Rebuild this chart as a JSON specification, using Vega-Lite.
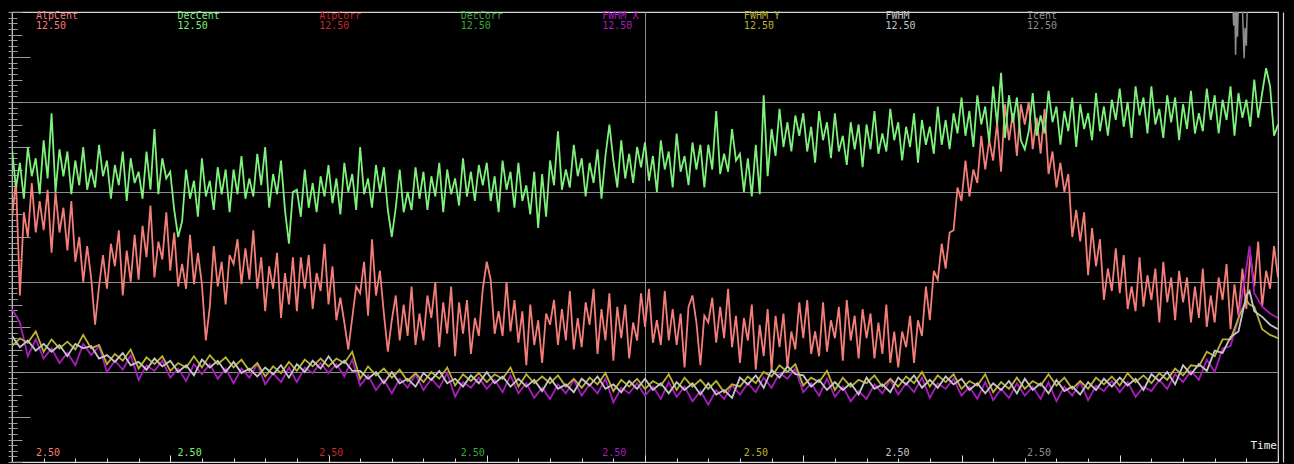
{
  "$schema": "https://vega.github.io/schema/vega-lite/v6.json",
  "width": 1266,
  "height": 450,
  "autosize": {"type": "none"},
  "padding": {"left": 12, "top": 12, "right": 16, "bottom": 2},
  "background": "#000000",
  "config": {
    "view": {"stroke": "#d4d4d4", "strokeWidth": 1.2},
    "font": "DejaVu Sans Mono"
  },
  "datasets": {
    "centroids": [
      {"t":0,"AlpCent":10.8,"DecCent":13.9},{"t":0.125,"AlpCent":12.5,"DecCent":12.2},{"t":0.25,"AlpCent":7.4,"DecCent":13.3},{"t":0.375,"AlpCent":11.1,"DecCent":11.7},{"t":0.5,"AlpCent":10.0,"DecCent":14.0},{"t":0.625,"AlpCent":12.4,"DecCent":12.7},{"t":0.75,"AlpCent":10.2,"DecCent":13.5},{"t":0.875,"AlpCent":11.6,"DecCent":11.9},
      {"t":1,"AlpCent":10.3,"DecCent":14.3},{"t":1.125,"AlpCent":12.1,"DecCent":12.6},{"t":1.25,"AlpCent":9.3,"DecCent":15.5},{"t":1.375,"AlpCent":12.0,"DecCent":12.0},{"t":1.5,"AlpCent":10.2,"DecCent":13.9},{"t":1.625,"AlpCent":11.3,"DecCent":12.7},{"t":1.75,"AlpCent":9.4,"DecCent":13.8},{"t":1.875,"AlpCent":11.6,"DecCent":11.9},
      {"t":2,"AlpCent":8.9,"DecCent":13.4},{"t":2.125,"AlpCent":10.0,"DecCent":12.3},{"t":2.25,"AlpCent":8.0,"DecCent":14.0},{"t":2.375,"AlpCent":9.6,"DecCent":12.1},{"t":2.5,"AlpCent":8.2,"DecCent":13.0},{"t":2.625,"AlpCent":6.1,"DecCent":12.2},{"t":2.75,"AlpCent":7.8,"DecCent":14.1},{"t":2.875,"AlpCent":9.2,"DecCent":12.7},
      {"t":3,"AlpCent":7.7,"DecCent":13.4},{"t":3.125,"AlpCent":9.7,"DecCent":11.7},{"t":3.25,"AlpCent":8.7,"DecCent":13.2},{"t":3.375,"AlpCent":10.3,"DecCent":12.3},{"t":3.5,"AlpCent":7.4,"DecCent":13.8},{"t":3.625,"AlpCent":9.4,"DecCent":11.6},{"t":3.75,"AlpCent":8.0,"DecCent":13.5},{"t":3.875,"AlpCent":10.1,"DecCent":12.4},
      {"t":4,"AlpCent":8.1,"DecCent":12.9},{"t":4.125,"AlpCent":10.5,"DecCent":11.7},{"t":4.25,"AlpCent":9.1,"DecCent":13.8},{"t":4.375,"AlpCent":11.4,"DecCent":12.1},{"t":4.5,"AlpCent":8.2,"DecCent":14.8},{"t":4.625,"AlpCent":9.8,"DecCent":11.9},{"t":4.75,"AlpCent":9.0,"DecCent":13.5},{"t":4.875,"AlpCent":11.1,"DecCent":12.6},
      {"t":5,"AlpCent":8.5,"DecCent":12.9},{"t":5.125,"AlpCent":10.2,"DecCent":11.2},{"t":5.25,"AlpCent":7.8,"DecCent":10.0},{"t":5.375,"AlpCent":8.8,"DecCent":10.7},{"t":5.5,"AlpCent":7.7,"DecCent":13.0},{"t":5.625,"AlpCent":10.1,"DecCent":11.7},{"t":5.75,"AlpCent":7.9,"DecCent":12.5},{"t":5.875,"AlpCent":9.3,"DecCent":10.9},
      {"t":6,"AlpCent":7.9,"DecCent":13.5},{"t":6.125,"AlpCent":5.4,"DecCent":11.8},{"t":6.25,"AlpCent":6.9,"DecCent":12.5},{"t":6.375,"AlpCent":9.6,"DecCent":11.2},{"t":6.5,"AlpCent":7.8,"DecCent":13.1},{"t":6.625,"AlpCent":8.9,"DecCent":11.9},{"t":6.75,"AlpCent":7.0,"DecCent":13.0},{"t":6.875,"AlpCent":9.2,"DecCent":11.1},
      {"t":7,"AlpCent":8.8,"DecCent":13.0},{"t":7.125,"AlpCent":9.9,"DecCent":11.9},{"t":7.25,"AlpCent":7.9,"DecCent":13.6},{"t":7.375,"AlpCent":9.5,"DecCent":11.7},{"t":7.5,"AlpCent":8.1,"DecCent":12.6},{"t":7.625,"AlpCent":10.3,"DecCent":11.8},{"t":7.75,"AlpCent":7.7,"DecCent":13.7},{"t":7.875,"AlpCent":9.1,"DecCent":12.3},
      {"t":8,"AlpCent":6.7,"DecCent":14.0},{"t":8.125,"AlpCent":8.7,"DecCent":11.3},{"t":8.25,"AlpCent":7.7,"DecCent":12.8},{"t":8.375,"AlpCent":9.3,"DecCent":11.9},{"t":8.5,"AlpCent":6.4,"DecCent":13.4},{"t":8.625,"AlpCent":8.4,"DecCent":11.2},{"t":8.75,"AlpCent":7.0,"DecCent":9.7},{"t":8.875,"AlpCent":9.1,"DecCent":12.0},
      {"t":9,"AlpCent":6.7,"DecCent":12.1},{"t":9.125,"AlpCent":9.1,"DecCent":10.9},{"t":9.25,"AlpCent":7.7,"DecCent":13.0},{"t":9.375,"AlpCent":9.2,"DecCent":11.3},{"t":9.5,"AlpCent":6.8,"DecCent":12.4},{"t":9.625,"AlpCent":8.4,"DecCent":11.1},{"t":9.75,"AlpCent":7.6,"DecCent":12.7},{"t":9.875,"AlpCent":9.7,"DecCent":11.8},
      {"t":10,"AlpCent":7.0,"DecCent":13.2},{"t":10.125,"AlpCent":8.7,"DecCent":11.5},{"t":10.25,"AlpCent":6.3,"DecCent":12.6},{"t":10.375,"AlpCent":7.3,"DecCent":11.0},{"t":10.5,"AlpCent":6.2,"DecCent":13.3},{"t":10.625,"AlpCent":5.0,"DecCent":12.0},{"t":10.75,"AlpCent":6.4,"DecCent":12.8},{"t":10.875,"AlpCent":7.8,"DecCent":11.2},
      {"t":11,"AlpCent":7.5,"DecCent":14.0},{"t":11.125,"AlpCent":8.9,"DecCent":11.9},{"t":11.25,"AlpCent":6.5,"DecCent":12.6},{"t":11.375,"AlpCent":9.9,"DecCent":11.3},{"t":11.5,"AlpCent":7.4,"DecCent":13.2},{"t":11.625,"AlpCent":8.5,"DecCent":12.0},{"t":11.75,"AlpCent":6.6,"DecCent":13.1},{"t":11.875,"AlpCent":4.9,"DecCent":11.2},
      {"t":12,"AlpCent":6.3,"DecCent":10.0},{"t":12.125,"AlpCent":7.4,"DecCent":11.3},{"t":12.25,"AlpCent":5.4,"DecCent":13.0},{"t":12.375,"AlpCent":7.0,"DecCent":11.1},{"t":12.5,"AlpCent":5.6,"DecCent":12.0},{"t":12.625,"AlpCent":7.8,"DecCent":11.2},{"t":12.75,"AlpCent":5.2,"DecCent":13.1},{"t":12.875,"AlpCent":6.6,"DecCent":11.7},
      {"t":13,"AlpCent":5.4,"DecCent":12.9},{"t":13.125,"AlpCent":7.4,"DecCent":11.2},{"t":13.25,"AlpCent":6.4,"DecCent":12.7},{"t":13.375,"AlpCent":8.0,"DecCent":11.8},{"t":13.5,"AlpCent":5.1,"DecCent":13.3},{"t":13.625,"AlpCent":7.1,"DecCent":11.1},{"t":13.75,"AlpCent":5.7,"DecCent":13.0},{"t":13.875,"AlpCent":7.8,"DecCent":11.9},
      {"t":14,"AlpCent":4.7,"DecCent":12.6},{"t":14.125,"AlpCent":7.1,"DecCent":11.4},{"t":14.25,"AlpCent":5.7,"DecCent":13.5},{"t":14.375,"AlpCent":7.2,"DecCent":11.8},{"t":14.5,"AlpCent":4.8,"DecCent":12.9},{"t":14.625,"AlpCent":6.4,"DecCent":11.6},{"t":14.75,"AlpCent":5.6,"DecCent":13.2},{"t":14.875,"AlpCent":7.7,"DecCent":12.3},
      {"t":15,"AlpCent":8.9,"DecCent":13.3},{"t":15.125,"AlpCent":8.1,"DecCent":11.6},{"t":15.25,"AlpCent":5.7,"DecCent":12.7},{"t":15.375,"AlpCent":6.7,"DecCent":11.1},{"t":15.5,"AlpCent":5.6,"DecCent":13.4},{"t":15.625,"AlpCent":8.0,"DecCent":12.1},{"t":15.75,"AlpCent":5.8,"DecCent":12.9},{"t":15.875,"AlpCent":7.2,"DecCent":11.3},
      {"t":16,"AlpCent":5.3,"DecCent":13.3},{"t":16.125,"AlpCent":6.7,"DecCent":11.6},{"t":16.25,"AlpCent":4.3,"DecCent":12.3},{"t":16.375,"AlpCent":7.0,"DecCent":11.0},{"t":16.5,"AlpCent":5.2,"DecCent":12.9},{"t":16.625,"AlpCent":6.3,"DecCent":10.4},{"t":16.75,"AlpCent":4.4,"DecCent":12.8},{"t":16.875,"AlpCent":6.6,"DecCent":10.9},
      {"t":17,"AlpCent":6.1,"DecCent":13.4},{"t":17.125,"AlpCent":7.2,"DecCent":12.3},{"t":17.25,"AlpCent":5.2,"DecCent":14.7},{"t":17.375,"AlpCent":6.8,"DecCent":12.1},{"t":17.5,"AlpCent":5.4,"DecCent":13.0},{"t":17.625,"AlpCent":7.6,"DecCent":12.2},{"t":17.75,"AlpCent":5.0,"DecCent":14.1},{"t":17.875,"AlpCent":6.4,"DecCent":12.7},
      {"t":18,"AlpCent":5.1,"DecCent":13.5},{"t":18.125,"AlpCent":7.1,"DecCent":11.8},{"t":18.25,"AlpCent":6.1,"DecCent":13.3},{"t":18.375,"AlpCent":7.7,"DecCent":12.4},{"t":18.5,"AlpCent":4.8,"DecCent":13.9},{"t":18.625,"AlpCent":6.8,"DecCent":11.7},{"t":18.75,"AlpCent":5.4,"DecCent":13.6},{"t":18.875,"AlpCent":7.5,"DecCent":15.0},
      {"t":19,"AlpCent":4.5,"DecCent":13.4},{"t":19.125,"AlpCent":6.9,"DecCent":12.2},{"t":19.25,"AlpCent":5.5,"DecCent":14.3},{"t":19.375,"AlpCent":7.0,"DecCent":12.6},{"t":19.5,"AlpCent":4.6,"DecCent":13.7},{"t":19.625,"AlpCent":6.2,"DecCent":12.4},{"t":19.75,"AlpCent":5.4,"DecCent":14.0},{"t":19.875,"AlpCent":7.5,"DecCent":13.1},
      {"t":20,"AlpCent":6.0,"DecCent":14.2},{"t":20.125,"AlpCent":7.7,"DecCent":12.5},{"t":20.25,"AlpCent":5.3,"DecCent":13.6},{"t":20.375,"AlpCent":6.3,"DecCent":12.0},{"t":20.5,"AlpCent":5.2,"DecCent":14.3},{"t":20.625,"AlpCent":7.6,"DecCent":13.0},{"t":20.75,"AlpCent":5.4,"DecCent":13.8},{"t":20.875,"AlpCent":6.8,"DecCent":12.2},
      {"t":21,"AlpCent":5.2,"DecCent":14.6},{"t":21.125,"AlpCent":6.6,"DecCent":12.9},{"t":21.25,"AlpCent":4.2,"DecCent":13.6},{"t":21.375,"AlpCent":6.9,"DecCent":12.3},{"t":21.5,"AlpCent":7.4,"DecCent":14.2},{"t":21.625,"AlpCent":6.2,"DecCent":13.0},{"t":21.75,"AlpCent":4.3,"DecCent":14.1},{"t":21.875,"AlpCent":6.5,"DecCent":12.2},
      {"t":22,"AlpCent":6.2,"DecCent":14.1},{"t":22.125,"AlpCent":7.3,"DecCent":13.0},{"t":22.25,"AlpCent":5.3,"DecCent":15.6},{"t":22.375,"AlpCent":6.9,"DecCent":12.8},{"t":22.5,"AlpCent":5.5,"DecCent":13.7},{"t":22.625,"AlpCent":7.7,"DecCent":12.9},{"t":22.75,"AlpCent":5.1,"DecCent":14.8},{"t":22.875,"AlpCent":6.5,"DecCent":13.4},
      {"t":23,"AlpCent":4.4,"DecCent":13.7},{"t":23.125,"AlpCent":6.4,"DecCent":12.0},{"t":23.25,"AlpCent":5.4,"DecCent":13.5},{"t":23.375,"AlpCent":7.0,"DecCent":11.8},{"t":23.5,"AlpCent":4.1,"DecCent":14.1},{"t":23.625,"AlpCent":6.1,"DecCent":11.9},{"t":23.75,"AlpCent":4.7,"DecCent":16.3},{"t":23.875,"AlpCent":6.8,"DecCent":12.7},
      {"t":24,"AlpCent":4.1,"DecCent":14.8},{"t":24.125,"AlpCent":6.5,"DecCent":13.6},{"t":24.25,"AlpCent":5.1,"DecCent":15.7},{"t":24.375,"AlpCent":6.6,"DecCent":14.0},{"t":24.5,"AlpCent":4.2,"DecCent":15.1},{"t":24.625,"AlpCent":5.8,"DecCent":13.8},{"t":24.75,"AlpCent":5.0,"DecCent":15.4},{"t":24.875,"AlpCent":7.1,"DecCent":14.5},
      {"t":25,"AlpCent":5.5,"DecCent":15.5},{"t":25.125,"AlpCent":7.2,"DecCent":13.8},{"t":25.25,"AlpCent":4.8,"DecCent":14.9},{"t":25.375,"AlpCent":5.8,"DecCent":13.3},{"t":25.5,"AlpCent":4.7,"DecCent":15.6},{"t":25.625,"AlpCent":7.1,"DecCent":14.3},{"t":25.75,"AlpCent":4.9,"DecCent":15.1},{"t":25.875,"AlpCent":6.3,"DecCent":13.5},
      {"t":26,"AlpCent":5.5,"DecCent":15.5},{"t":26.125,"AlpCent":6.9,"DecCent":13.8},{"t":26.25,"AlpCent":4.5,"DecCent":14.5},{"t":26.375,"AlpCent":7.2,"DecCent":13.2},{"t":26.5,"AlpCent":5.4,"DecCent":15.1},{"t":26.625,"AlpCent":6.5,"DecCent":13.9},{"t":26.75,"AlpCent":4.6,"DecCent":15.0},{"t":26.875,"AlpCent":6.8,"DecCent":13.1},
      {"t":27,"AlpCent":5.5,"DecCent":15.0},{"t":27.125,"AlpCent":6.6,"DecCent":13.9},{"t":27.25,"AlpCent":4.6,"DecCent":15.6},{"t":27.375,"AlpCent":6.2,"DecCent":13.7},{"t":27.5,"AlpCent":4.8,"DecCent":14.6},{"t":27.625,"AlpCent":7.0,"DecCent":13.8},{"t":27.75,"AlpCent":4.4,"DecCent":15.7},{"t":27.875,"AlpCent":5.8,"DecCent":14.3},
      {"t":28,"AlpCent":4.2,"DecCent":15.1},{"t":28.125,"AlpCent":5.8,"DecCent":13.4},{"t":28.25,"AlpCent":5.1,"DecCent":14.9},{"t":28.375,"AlpCent":6.5,"DecCent":14.0},{"t":28.5,"AlpCent":4.4,"DecCent":15.5},{"t":28.625,"AlpCent":6.3,"DecCent":13.3},{"t":28.75,"AlpCent":5.6,"DecCent":15.2},{"t":28.875,"AlpCent":7.8,"DecCent":14.1},
      {"t":29,"AlpCent":6.3,"DecCent":14.9},{"t":29.125,"AlpCent":8.5,"DecCent":13.7},{"t":29.25,"AlpCent":8.1,"DecCent":15.8},{"t":29.375,"AlpCent":9.7,"DecCent":14.1},{"t":29.5,"AlpCent":8.6,"DecCent":15.2},{"t":29.625,"AlpCent":10.2,"DecCent":13.9},{"t":29.75,"AlpCent":10.3,"DecCent":15.5},{"t":29.875,"AlpCent":12.2,"DecCent":14.6},
      {"t":30,"AlpCent":11.6,"DecCent":16.2},{"t":30.125,"AlpCent":13.4,"DecCent":14.5},{"t":30.25,"AlpCent":11.8,"DecCent":15.6},{"t":30.375,"AlpCent":13.0,"DecCent":14.0},{"t":30.5,"AlpCent":12.4,"DecCent":16.3},{"t":30.625,"AlpCent":14.5,"DecCent":15.0},{"t":30.75,"AlpCent":13.0,"DecCent":15.8},{"t":30.875,"AlpCent":14.3,"DecCent":14.2},
      {"t":31,"AlpCent":13.4,"DecCent":16.7},{"t":31.125,"AlpCent":15.1,"DecCent":15.0},{"t":31.25,"AlpCent":12.9,"DecCent":17.3},{"t":31.375,"AlpCent":15.9,"DecCent":14.4},{"t":31.5,"AlpCent":14.3,"DecCent":16.3},{"t":31.625,"AlpCent":15.5,"DecCent":15.1},{"t":31.75,"AlpCent":13.6,"DecCent":16.2},{"t":31.875,"AlpCent":15.9,"DecCent":14.3},
      {"t":32,"AlpCent":15.0,"DecCent":13.9},{"t":32.125,"AlpCent":16.0,"DecCent":14.7},{"t":32.25,"AlpCent":13.9,"DecCent":16.4},{"t":32.375,"AlpCent":15.3,"DecCent":14.5},{"t":32.5,"AlpCent":13.7,"DecCent":15.4},{"t":32.625,"AlpCent":15.7,"DecCent":14.6},{"t":32.75,"AlpCent":12.8,"DecCent":16.5},{"t":32.875,"AlpCent":13.8,"DecCent":15.1},
      {"t":33,"AlpCent":12.2,"DecCent":15.8},{"t":33.125,"AlpCent":13.3,"DecCent":14.1},{"t":33.25,"AlpCent":12.0,"DecCent":15.6},{"t":33.375,"AlpCent":12.8,"DecCent":14.7},{"t":33.5,"AlpCent":10.0,"DecCent":16.2},{"t":33.625,"AlpCent":11.2,"DecCent":14.0},{"t":33.75,"AlpCent":9.8,"DecCent":15.9},{"t":33.875,"AlpCent":11.1,"DecCent":14.8},
      {"t":34,"AlpCent":8.3,"DecCent":15.5},{"t":34.125,"AlpCent":10.4,"DecCent":14.3},{"t":34.25,"AlpCent":8.7,"DecCent":16.4},{"t":34.375,"AlpCent":9.9,"DecCent":14.7},{"t":34.5,"AlpCent":7.2,"DecCent":15.8},{"t":34.625,"AlpCent":8.6,"DecCent":14.5},{"t":34.75,"AlpCent":7.6,"DecCent":16.1},{"t":34.875,"AlpCent":9.5,"DecCent":15.2},
      {"t":35,"AlpCent":7.5,"DecCent":16.6},{"t":35.125,"AlpCent":9.2,"DecCent":14.9},{"t":35.25,"AlpCent":6.8,"DecCent":16.0},{"t":35.375,"AlpCent":7.8,"DecCent":14.4},{"t":35.5,"AlpCent":6.7,"DecCent":16.7},{"t":35.625,"AlpCent":9.1,"DecCent":15.4},{"t":35.75,"AlpCent":6.9,"DecCent":16.2},{"t":35.875,"AlpCent":8.3,"DecCent":14.6},
      {"t":36,"AlpCent":7.2,"DecCent":16.7},{"t":36.125,"AlpCent":8.6,"DecCent":15.0},{"t":36.25,"AlpCent":6.2,"DecCent":15.7},{"t":36.375,"AlpCent":8.9,"DecCent":14.4},{"t":36.5,"AlpCent":7.1,"DecCent":16.3},{"t":36.625,"AlpCent":8.2,"DecCent":15.1},{"t":36.75,"AlpCent":6.3,"DecCent":16.2},{"t":36.875,"AlpCent":8.5,"DecCent":14.3},
      {"t":37,"AlpCent":7.1,"DecCent":15.9},{"t":37.125,"AlpCent":8.2,"DecCent":14.8},{"t":37.25,"AlpCent":6.2,"DecCent":16.5},{"t":37.375,"AlpCent":7.8,"DecCent":14.6},{"t":37.5,"AlpCent":6.4,"DecCent":15.5},{"t":37.625,"AlpCent":8.6,"DecCent":14.7},{"t":37.75,"AlpCent":6.0,"DecCent":16.6},{"t":37.875,"AlpCent":7.4,"DecCent":15.2},
      {"t":38,"AlpCent":6.2,"DecCent":16.3},{"t":38.125,"AlpCent":8.2,"DecCent":14.6},{"t":38.25,"AlpCent":7.2,"DecCent":16.1},{"t":38.375,"AlpCent":8.8,"DecCent":15.2},{"t":38.5,"AlpCent":5.9,"DecCent":16.7},{"t":38.625,"AlpCent":7.9,"DecCent":14.5},{"t":38.75,"AlpCent":6.5,"DecCent":16.4},{"t":38.875,"AlpCent":8.6,"DecCent":15.3},
      {"t":39,"AlpCent":6.8,"DecCent":16.1},{"t":39.125,"AlpCent":9.2,"DecCent":14.9},{"t":39.25,"AlpCent":7.8,"DecCent":17.0},{"t":39.375,"AlpCent":9.8,"DecCent":15.3},{"t":39.5,"AlpCent":6.9,"DecCent":16.4},{"t":39.625,"AlpCent":8.5,"DecCent":17.5},{"t":39.75,"AlpCent":7.7,"DecCent":16.7},{"t":39.875,"AlpCent":9.6,"DecCent":14.5},
      {"t":40,"AlpCent":8.2,"DecCent":15.0}
    ],
    "widths": [
      {"t":0,"FWHM_X":6.8,"FWHM_Y":5.15,"FWHM":5.6},{"t":0.25,"FWHM_X":6.2,"FWHM_Y":5.5,"FWHM":5.1},{"t":0.5,"FWHM_X":4.7,"FWHM_Y":5.3,"FWHM":5.4},{"t":0.75,"FWHM_X":5.45,"FWHM_Y":5.8,"FWHM":4.95},
      {"t":1,"FWHM_X":4.6,"FWHM_Y":4.9,"FWHM":5.25},{"t":1.25,"FWHM_X":5.05,"FWHM_Y":5.45,"FWHM":4.9},{"t":1.5,"FWHM_X":4.4,"FWHM_Y":5.05,"FWHM":5.2},{"t":1.75,"FWHM_X":4.85,"FWHM_Y":5.35,"FWHM":4.7},
      {"t":2,"FWHM_X":4.3,"FWHM_Y":5.0,"FWHM":5.25},{"t":2.25,"FWHM_X":5.25,"FWHM_Y":5.65,"FWHM":5.05},{"t":2.5,"FWHM_X":4.75,"FWHM_Y":5.05,"FWHM":5.15},{"t":2.75,"FWHM_X":5.15,"FWHM_Y":5.2,"FWHM":4.6},
      {"t":3,"FWHM_X":4.0,"FWHM_Y":4.35,"FWHM":4.75},{"t":3.25,"FWHM_X":4.5,"FWHM_Y":4.8,"FWHM":4.45},{"t":3.5,"FWHM_X":4.1,"FWHM_Y":4.5,"FWHM":4.85},{"t":3.75,"FWHM_X":4.75,"FWHM_Y":5.0,"FWHM":4.3},
      {"t":4,"FWHM_X":3.65,"FWHM_Y":4.15,"FWHM":4.45},{"t":4.25,"FWHM_X":4.3,"FWHM_Y":4.65,"FWHM":4.1},{"t":4.5,"FWHM_X":4.05,"FWHM_Y":4.35,"FWHM":4.6},{"t":4.75,"FWHM_X":4.5,"FWHM_Y":4.7,"FWHM":4.25},
      {"t":5,"FWHM_X":3.75,"FWHM_Y":4.05,"FWHM":4.5},{"t":5.25,"FWHM_X":4.15,"FWHM_Y":4.4,"FWHM":4.0},{"t":5.5,"FWHM_X":3.6,"FWHM_Y":4.2,"FWHM":4.3},{"t":5.75,"FWHM_X":4.35,"FWHM_Y":4.7,"FWHM":3.85},
      {"t":6,"FWHM_X":3.9,"FWHM_Y":4.2,"FWHM":4.55},{"t":6.25,"FWHM_X":4.35,"FWHM_Y":4.75,"FWHM":4.2},{"t":6.5,"FWHM_X":3.7,"FWHM_Y":4.35,"FWHM":4.5},{"t":6.75,"FWHM_X":4.15,"FWHM_Y":4.65,"FWHM":4.0},
      {"t":7,"FWHM_X":3.5,"FWHM_Y":4.2,"FWHM":4.45},{"t":7.25,"FWHM_X":4.15,"FWHM_Y":4.55,"FWHM":3.95},{"t":7.5,"FWHM_X":3.75,"FWHM_Y":4.05,"FWHM":4.15},{"t":7.75,"FWHM_X":4.35,"FWHM_Y":4.4,"FWHM":3.8},
      {"t":8,"FWHM_X":3.45,"FWHM_Y":3.8,"FWHM":4.2},{"t":8.25,"FWHM_X":3.95,"FWHM_Y":4.25,"FWHM":3.9},{"t":8.5,"FWHM_X":3.55,"FWHM_Y":3.95,"FWHM":4.3},{"t":8.75,"FWHM_X":4.2,"FWHM_Y":4.45,"FWHM":3.75},
      {"t":9,"FWHM_X":3.55,"FWHM_Y":4.05,"FWHM":4.35},{"t":9.25,"FWHM_X":4.2,"FWHM_Y":4.55,"FWHM":4.0},{"t":9.5,"FWHM_X":3.95,"FWHM_Y":4.25,"FWHM":4.5},{"t":9.75,"FWHM_X":4.4,"FWHM_Y":4.6,"FWHM":4.15},
      {"t":10,"FWHM_X":3.95,"FWHM_Y":4.25,"FWHM":4.7},{"t":10.25,"FWHM_X":4.35,"FWHM_Y":4.6,"FWHM":4.2},{"t":10.5,"FWHM_X":3.8,"FWHM_Y":4.4,"FWHM":4.5},{"t":10.75,"FWHM_X":4.55,"FWHM_Y":4.9,"FWHM":4.05},
      {"t":11,"FWHM_X":3.4,"FWHM_Y":3.7,"FWHM":4.05},{"t":11.25,"FWHM_X":3.85,"FWHM_Y":4.25,"FWHM":3.7},{"t":11.5,"FWHM_X":3.2,"FWHM_Y":3.85,"FWHM":4.0},{"t":11.75,"FWHM_X":3.65,"FWHM_Y":4.15,"FWHM":3.5},
      {"t":12,"FWHM_X":3.05,"FWHM_Y":3.75,"FWHM":4.0},{"t":12.25,"FWHM_X":3.7,"FWHM_Y":4.1,"FWHM":3.5},{"t":12.5,"FWHM_X":3.3,"FWHM_Y":3.6,"FWHM":3.7},{"t":12.75,"FWHM_X":3.9,"FWHM_Y":3.95,"FWHM":3.35},
      {"t":13,"FWHM_X":3.2,"FWHM_Y":3.55,"FWHM":3.95},{"t":13.25,"FWHM_X":3.7,"FWHM_Y":4.0,"FWHM":3.65},{"t":13.5,"FWHM_X":3.3,"FWHM_Y":3.7,"FWHM":4.05},{"t":13.75,"FWHM_X":3.95,"FWHM_Y":4.2,"FWHM":3.5},
      {"t":14,"FWHM_X":2.9,"FWHM_Y":3.4,"FWHM":3.7},{"t":14.25,"FWHM_X":3.55,"FWHM_Y":3.9,"FWHM":3.35},{"t":14.5,"FWHM_X":3.3,"FWHM_Y":3.6,"FWHM":3.85},{"t":14.75,"FWHM_X":3.75,"FWHM_Y":3.95,"FWHM":3.5},
      {"t":15,"FWHM_X":3.25,"FWHM_Y":3.55,"FWHM":4.0},{"t":15.25,"FWHM_X":3.65,"FWHM_Y":3.9,"FWHM":3.5},{"t":15.5,"FWHM_X":3.1,"FWHM_Y":3.7,"FWHM":3.8},{"t":15.75,"FWHM_X":3.85,"FWHM_Y":4.2,"FWHM":3.35},
      {"t":16,"FWHM_X":3.05,"FWHM_Y":3.35,"FWHM":3.7},{"t":16.25,"FWHM_X":3.5,"FWHM_Y":3.9,"FWHM":3.35},{"t":16.5,"FWHM_X":2.85,"FWHM_Y":3.5,"FWHM":3.65},{"t":16.75,"FWHM_X":3.3,"FWHM_Y":3.8,"FWHM":3.15},
      {"t":17,"FWHM_X":2.8,"FWHM_Y":3.5,"FWHM":3.75},{"t":17.25,"FWHM_X":3.45,"FWHM_Y":3.85,"FWHM":3.25},{"t":17.5,"FWHM_X":3.05,"FWHM_Y":3.35,"FWHM":3.45},{"t":17.75,"FWHM_X":3.65,"FWHM_Y":3.7,"FWHM":3.1},
      {"t":18,"FWHM_X":2.95,"FWHM_Y":3.3,"FWHM":3.7},{"t":18.25,"FWHM_X":3.45,"FWHM_Y":3.75,"FWHM":3.4},{"t":18.5,"FWHM_X":3.05,"FWHM_Y":3.45,"FWHM":3.8},{"t":18.75,"FWHM_X":3.7,"FWHM_Y":3.95,"FWHM":3.25},
      {"t":19,"FWHM_X":2.65,"FWHM_Y":3.15,"FWHM":3.45},{"t":19.25,"FWHM_X":3.3,"FWHM_Y":3.65,"FWHM":3.1},{"t":19.5,"FWHM_X":3.05,"FWHM_Y":3.35,"FWHM":3.6},{"t":19.75,"FWHM_X":3.5,"FWHM_Y":3.7,"FWHM":3.25},
      {"t":20,"FWHM_X":2.95,"FWHM_Y":3.25,"FWHM":3.7},{"t":20.25,"FWHM_X":3.35,"FWHM_Y":3.6,"FWHM":3.2},{"t":20.5,"FWHM_X":2.8,"FWHM_Y":3.4,"FWHM":3.5},{"t":20.75,"FWHM_X":3.55,"FWHM_Y":3.9,"FWHM":3.05},
      {"t":21,"FWHM_X":2.9,"FWHM_Y":3.2,"FWHM":3.55},{"t":21.25,"FWHM_X":3.35,"FWHM_Y":3.75,"FWHM":3.2},{"t":21.5,"FWHM_X":2.7,"FWHM_Y":3.35,"FWHM":3.5},{"t":21.75,"FWHM_X":3.15,"FWHM_Y":3.65,"FWHM":3.0},
      {"t":22,"FWHM_X":2.55,"FWHM_Y":3.25,"FWHM":3.5},{"t":22.25,"FWHM_X":3.2,"FWHM_Y":3.6,"FWHM":3.0},{"t":22.5,"FWHM_X":2.8,"FWHM_Y":3.1,"FWHM":3.2},{"t":22.75,"FWHM_X":3.4,"FWHM_Y":3.45,"FWHM":2.85},
      {"t":23,"FWHM_X":3.0,"FWHM_Y":3.35,"FWHM":3.75},{"t":23.25,"FWHM_X":3.5,"FWHM_Y":3.8,"FWHM":3.45},{"t":23.5,"FWHM_X":3.1,"FWHM_Y":3.5,"FWHM":3.85},{"t":23.75,"FWHM_X":3.75,"FWHM_Y":4.0,"FWHM":3.3},
      {"t":24,"FWHM_X":3.3,"FWHM_Y":3.8,"FWHM":4.1},{"t":24.25,"FWHM_X":3.95,"FWHM_Y":4.3,"FWHM":3.75},{"t":24.5,"FWHM_X":3.7,"FWHM_Y":4.0,"FWHM":4.25},{"t":24.75,"FWHM_X":4.15,"FWHM_Y":4.35,"FWHM":3.9},
      {"t":25,"FWHM_X":3.1,"FWHM_Y":3.4,"FWHM":3.85},{"t":25.25,"FWHM_X":3.5,"FWHM_Y":3.75,"FWHM":3.35},{"t":25.5,"FWHM_X":2.95,"FWHM_Y":3.55,"FWHM":3.65},{"t":25.75,"FWHM_X":3.7,"FWHM_Y":4.05,"FWHM":3.2},
      {"t":26,"FWHM_X":2.9,"FWHM_Y":3.2,"FWHM":3.55},{"t":26.25,"FWHM_X":3.35,"FWHM_Y":3.75,"FWHM":3.2},{"t":26.5,"FWHM_X":2.7,"FWHM_Y":3.35,"FWHM":3.5},{"t":26.75,"FWHM_X":3.15,"FWHM_Y":3.65,"FWHM":3.0},
      {"t":27,"FWHM_X":2.8,"FWHM_Y":3.5,"FWHM":3.75},{"t":27.25,"FWHM_X":3.45,"FWHM_Y":3.85,"FWHM":3.25},{"t":27.5,"FWHM_X":3.05,"FWHM_Y":3.35,"FWHM":3.45},{"t":27.75,"FWHM_X":3.65,"FWHM_Y":3.7,"FWHM":3.1},
      {"t":28,"FWHM_X":3.0,"FWHM_Y":3.35,"FWHM":3.75},{"t":28.25,"FWHM_X":3.5,"FWHM_Y":3.8,"FWHM":3.45},{"t":28.5,"FWHM_X":3.1,"FWHM_Y":3.5,"FWHM":3.85},{"t":28.75,"FWHM_X":3.75,"FWHM_Y":4.0,"FWHM":3.3},
      {"t":29,"FWHM_X":2.85,"FWHM_Y":3.35,"FWHM":3.65},{"t":29.25,"FWHM_X":3.5,"FWHM_Y":3.85,"FWHM":3.3},{"t":29.5,"FWHM_X":3.25,"FWHM_Y":3.55,"FWHM":3.8},{"t":29.75,"FWHM_X":3.7,"FWHM_Y":3.9,"FWHM":3.45},
      {"t":30,"FWHM_X":2.95,"FWHM_Y":3.25,"FWHM":3.7},{"t":30.25,"FWHM_X":3.35,"FWHM_Y":3.6,"FWHM":3.2},{"t":30.5,"FWHM_X":2.8,"FWHM_Y":3.4,"FWHM":3.5},{"t":30.75,"FWHM_X":3.55,"FWHM_Y":3.9,"FWHM":3.05},
      {"t":31,"FWHM_X":2.75,"FWHM_Y":3.1,"FWHM":3.5},{"t":31.25,"FWHM_X":3.25,"FWHM_Y":3.55,"FWHM":3.2},{"t":31.5,"FWHM_X":2.85,"FWHM_Y":3.25,"FWHM":3.6},{"t":31.75,"FWHM_X":3.5,"FWHM_Y":3.75,"FWHM":3.05},
      {"t":32,"FWHM_X":2.95,"FWHM_Y":3.25,"FWHM":3.7},{"t":32.25,"FWHM_X":3.35,"FWHM_Y":3.6,"FWHM":3.2},{"t":32.5,"FWHM_X":2.8,"FWHM_Y":3.4,"FWHM":3.5},{"t":32.75,"FWHM_X":3.55,"FWHM_Y":3.9,"FWHM":3.05},
      {"t":33,"FWHM_X":2.7,"FWHM_Y":3.4,"FWHM":3.65},{"t":33.25,"FWHM_X":3.35,"FWHM_Y":3.75,"FWHM":3.15},{"t":33.5,"FWHM_X":2.95,"FWHM_Y":3.25,"FWHM":3.35},{"t":33.75,"FWHM_X":3.55,"FWHM_Y":3.6,"FWHM":3.0},
      {"t":34,"FWHM_X":2.75,"FWHM_Y":3.25,"FWHM":3.55},{"t":34.25,"FWHM_X":3.4,"FWHM_Y":3.75,"FWHM":3.2},{"t":34.5,"FWHM_X":3.15,"FWHM_Y":3.45,"FWHM":3.7},{"t":34.75,"FWHM_X":3.6,"FWHM_Y":3.8,"FWHM":3.35},
      {"t":35,"FWHM_X":3.1,"FWHM_Y":3.4,"FWHM":3.75},{"t":35.25,"FWHM_X":3.55,"FWHM_Y":3.95,"FWHM":3.4},{"t":35.5,"FWHM_X":2.9,"FWHM_Y":3.55,"FWHM":3.7},{"t":35.75,"FWHM_X":3.35,"FWHM_Y":3.85,"FWHM":3.2},
      {"t":36,"FWHM_X":3.15,"FWHM_Y":3.5,"FWHM":3.9},{"t":36.25,"FWHM_X":3.65,"FWHM_Y":3.95,"FWHM":3.6},{"t":36.5,"FWHM_X":3.25,"FWHM_Y":3.65,"FWHM":4.0},{"t":36.75,"FWHM_X":3.9,"FWHM_Y":4.15,"FWHM":3.45},
      {"t":37,"FWHM_X":3.55,"FWHM_Y":3.85,"FWHM":4.3},{"t":37.25,"FWHM_X":4.05,"FWHM_Y":4.3,"FWHM":3.9},{"t":37.5,"FWHM_X":3.65,"FWHM_Y":4.25,"FWHM":4.35},{"t":37.75,"FWHM_X":4.55,"FWHM_Y":4.9,"FWHM":4.05},
      {"t":38,"FWHM_X":4.0,"FWHM_Y":4.7,"FWHM":4.95},{"t":38.25,"FWHM_X":5.05,"FWHM_Y":5.45,"FWHM":4.85},{"t":38.5,"FWHM_X":5.15,"FWHM_Y":5.45,"FWHM":5.55},{"t":38.75,"FWHM_X":6.35,"FWHM_Y":6.4,"FWHM":5.8},
      {"t":39,"FWHM_X":8.6,"FWHM_Y":7.2,"FWHM":7.4},{"t":39.1,"FWHM_X":9.6,"FWHM_Y":7.0,"FWHM":7.6},{"t":39.25,"FWHM_X":7.5,"FWHM_Y":6.9,"FWHM":6.7},{"t":39.5,"FWHM_X":6.9,"FWHM_Y":5.9,"FWHM":6.45},{"t":39.75,"FWHM_X":6.6,"FWHM_Y":5.65,"FWHM":6.1},
      {"t":40,"FWHM_X":6.4,"FWHM_Y":5.5,"FWHM":5.9}
    ],
    "intensity": [
      {"t":0,"Icent":21},{"t":38.55,"Icent":21},{"t":38.6,"Icent":19.4},{"t":38.63,"Icent":21},{"t":38.66,"Icent":18.1},{"t":38.69,"Icent":20.2},{"t":38.72,"Icent":18.9},{"t":38.76,"Icent":21},
      {"t":38.86,"Icent":21},{"t":38.89,"Icent":19.6},{"t":38.93,"Icent":17.95},{"t":38.96,"Icent":19.3},{"t":39.0,"Icent":18.5},{"t":39.04,"Icent":21},{"t":40,"Icent":21}
    ],
    "channels": [
      {"name":"AlpCent","top":"12.50","bottom":"2.50"},
      {"name":"DecCent","top":"12.50","bottom":"2.50"},
      {"name":"AlpCorr","top":"12.50","bottom":"2.50"},
      {"name":"DecCorr","top":"12.50","bottom":"2.50"},
      {"name":"FWHM_X","top":"12.50","bottom":"2.50"},
      {"name":"FWHM_Y","top":"12.50","bottom":"2.50"},
      {"name":"FWHM","top":"12.50","bottom":"2.50"},
      {"name":"Icent","top":"12.50","bottom":"2.50"}
    ]
  },
  "layer": [
    {
      "encoding": {
        "x": {
          "field": "t", "type": "quantitative",
          "scale": {"domain": [0, 40], "nice": false, "zero": false},
          "axis": {
            "orient": "bottom",
            "values": [0,1,2,3,4,5,6,7,8,9,10,11,12,13,14,15,16,17,18,19,20,21,22,23,24,25,26,27,28,29,30,31,32,33,34,35,36,37,38,39,40],
            "labels": false,
            "title": "Time", "titleColor": "#f0f0f0", "titleFont": "DejaVu Sans Mono", "titleFontSize": 11, "titleFontWeight": "normal",
            "titleAlign": "left", "titleBaseline": "alphabetic", "titleAngle": 0, "titleX": 1238, "titleY": -14,
            "domain": true, "domainColor": "#dedede", "domainWidth": 1.2,
            "ticks": true, "tickColor": "#dedede", "tickWidth": 1,
            "tickSize": {"condition": {"test": "datum.value % 5 === 0", "value": -7}, "value": -4},
            "grid": true, "gridColor": "#8c8c8c", "gridWidth": 1,
            "gridOpacity": {"condition": {"test": "datum.value === 20", "value": 1}, "value": 0}
          }
        },
        "y": {
          "field": "v", "type": "quantitative",
          "scale": {"domain": [0, 20], "nice": false, "zero": false},
          "axis": {
            "orient": "left",
            "offset": 4,
            "values": [0,0.25,0.5,0.75,1,1.25,1.5,1.75,2,2.25,2.5,2.75,3,3.25,3.5,3.75,4,4.25,4.5,4.75,5,5.25,5.5,5.75,6,6.25,6.5,6.75,7,7.25,7.5,7.75,8,8.25,8.5,8.75,9,9.25,9.5,9.75,10,10.25,10.5,10.75,11,11.25,11.5,11.75,12,12.25,12.5,12.75,13,13.25,13.5,13.75,14,14.25,14.5,14.75,15,15.25,15.5,15.75,16,16.25,16.5,16.75,17,17.25,17.5,17.75,18,18.25,18.5,18.75,19,19.25,19.5,19.75,20],
            "labels": false, "title": null,
            "domain": false,
            "ticks": true, "tickColor": "#9c9c9c", "tickWidth": 1,
            "tickSize": {"condition": [{"test": "datum.value % 4 === 2", "value": -22}, {"test": "datum.value % 1 === 0", "value": -14}], "value": -9},
            "grid": true, "gridColor": "#8c8c8c", "gridWidth": 1,
            "gridOpacity": {"condition": {"test": "datum.value % 4 === 0 && datum.value > 0 && datum.value < 20", "value": 1}, "value": 0}
          }
        },
        "color": {
          "field": "series", "type": "nominal", "legend": null,
          "scale": {
            "domain": ["AlpCent", "DecCent", "AlpCorr", "DecCorr", "FWHM_X", "FWHM_Y", "FWHM", "Icent"],
            "range": ["#f47e78", "#7ff27b", "#c62a2a", "#3caa3c", "#aa1cbc", "#bab232", "#c6c6c6", "#8e8e8e"]
          }
        }
      },
      "layer": [
        {
          "data": {"name": "centroids"},
          "transform": [{"fold": ["AlpCent", "DecCent"], "as": ["series", "v"]}],
          "mark": {"type": "line", "strokeWidth": 1.8, "clip": true}
        },
        {
          "data": {"name": "widths"},
          "transform": [{"fold": ["FWHM_X", "FWHM_Y"], "as": ["series", "v"]}],
          "mark": {"type": "line", "strokeWidth": 1.8, "clip": true}
        },
        {
          "data": {"name": "widths"},
          "transform": [{"fold": ["FWHM"], "as": ["series", "v"]}],
          "mark": {"type": "line", "strokeWidth": 1.8, "clip": true}
        },
        {
          "data": {"name": "intensity"},
          "transform": [{"fold": ["Icent"], "as": ["series", "v"]}],
          "mark": {"type": "line", "strokeWidth": 1.5, "clip": true}
        }
      ]
    },
    {
      "data": {"name": "channels"},
      "encoding": {
        "x": {
          "field": "name", "type": "nominal", "sort": null,
          "scale": {"type": "point", "domain": ["AlpCent", "DecCent", "AlpCorr", "DecCorr", "FWHM_X", "FWHM_Y", "FWHM", "Icent"], "range": [24, 1015], "padding": 0},
          "axis": null
        },
        "color": {
          "field": "name", "type": "nominal", "legend": null,
          "scale": {
            "domain": ["AlpCent", "DecCent", "AlpCorr", "DecCorr", "FWHM_X", "FWHM_Y", "FWHM", "Icent"],
            "range": ["#f47e78", "#7ff27b", "#c62a2a", "#3caa3c", "#aa1cbc", "#bab232", "#c6c6c6", "#8e8e8e"]
          }
        }
      },
      "layer": [
        {
          "transform": [{"calculate": "[datum.name, datum.top]", "as": "head"}],
          "mark": {"type": "text", "align": "left", "baseline": "alphabetic", "fontSize": 10, "lineHeight": 10, "font": "DejaVu Sans Mono"},
          "encoding": {
            "y": {
              "datum": 19.69, "type": "quantitative",
              "scale": {"domain": [0, 20], "nice": false, "zero": false},
              "axis": {"orient": "right", "offset": 5, "labels": false, "ticks": false, "grid": false, "title": null, "domain": true, "domainColor": "#d4d4d4", "domainWidth": 1.2}
            },
            "text": {"field": "head"}
          }
        },
        {
          "mark": {"type": "text", "align": "left", "baseline": "alphabetic", "fontSize": 10, "font": "DejaVu Sans Mono"},
          "encoding": {
            "y": {"datum": 0.27, "type": "quantitative", "scale": {"domain": [0, 20], "nice": false, "zero": false}},
            "text": {"field": "bottom"}
          }
        }
      ]
    }
  ],
  "resolve": {"scale": {"x": "independent"}, "axis": {"x": "independent", "y": "independent"}}
}
